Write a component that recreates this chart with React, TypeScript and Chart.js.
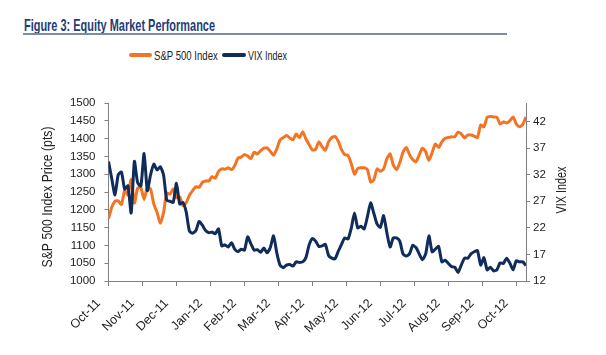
import React, { useEffect, useRef } from "react";
import { Chart, registerables } from "chart.js";

Chart.register(...registerables);

// Month tick labels and the trading-day index at which each tick sits
const MONTH_LABELS = ["Oct-11", "Nov-11", "Dec-11", "Jan-12", "Feb-12", "Mar-12", "Apr-12", "May-12", "Jun-12", "Jul-12", "Aug-12", "Sep-12", "Oct-12"];
const MONTH_TICK_INDEX = [0, 21, 42, 63, 84, 105, 126, 147, 168, 189, 210, 231, 252];
const LAST_INDEX = 258;
const SAMPLE_STEP = 2; // one sample every 2 trading days

const SPX_TICKS = [1000, 1050, 1100, 1150, 1200, 1250, 1300, 1350, 1400, 1450, 1500];
const VIX_TICKS = [12, 17, 22, 27, 32, 37, 42];

// S&P 500 index level (pts)
const SPX = [
  1175, 1207, 1224, 1225, 1215, 1254, 1242, 1285, 1219, 1261,
  1262, 1229, 1263, 1258, 1216, 1193, 1162, 1192, 1247, 1244,
  1258, 1234, 1236, 1212, 1220, 1241, 1254, 1265, 1263, 1277,
  1281, 1281, 1293, 1289, 1308, 1315, 1314, 1318, 1313, 1324,
  1345, 1348, 1355, 1351, 1344, 1362, 1357, 1366, 1373, 1374,
  1364, 1353, 1371, 1396, 1403, 1409, 1402, 1397, 1413, 1403,
  1419, 1399, 1383, 1368, 1370, 1391, 1377, 1367, 1391, 1403,
  1406, 1392, 1369, 1355, 1353, 1330, 1300, 1316, 1318, 1318,
  1313, 1278, 1285, 1315, 1308, 1315, 1343, 1357, 1326, 1313,
  1332, 1362, 1375, 1355, 1341, 1335, 1354, 1373, 1363, 1339,
  1361, 1385, 1375, 1391, 1401, 1403, 1405, 1405, 1418, 1413,
  1402, 1410, 1410, 1407, 1403, 1438, 1433, 1460, 1462, 1461,
  1460, 1441, 1447, 1444, 1450, 1461, 1441, 1433, 1440, 1461,
];

// VIX index level
const VIX = [
  34.5, 31.3, 28.2, 32.0, 32.5, 29.3, 29.9, 24.8, 34.5, 30.5,
  29.9, 36.0, 29.0, 32.0, 34.0, 32.9, 33.5, 32.0, 27.2, 27.0,
  26.8, 30.4, 26.5, 26.8, 25.0, 21.4, 21.0, 21.5, 23.2, 22.5,
  21.5, 21.1, 21.2, 20.9, 21.8, 18.6, 18.8, 18.4, 19.2, 18.0,
  17.5, 18.0, 17.8, 20.3, 19.0, 17.8, 17.9, 17.4, 18.2, 17.3,
  18.3, 20.5, 17.3, 15.0, 14.5, 15.0, 15.1, 14.8, 15.6, 15.5,
  15.6, 16.4, 18.8, 20.0, 19.5, 18.5, 18.6, 18.9, 16.8, 16.3,
  16.2, 17.6, 18.9, 20.1, 19.9, 21.9, 24.8, 22.0, 22.3, 21.8,
  24.1, 26.7, 24.7, 22.7, 22.1, 24.3, 21.1, 18.4, 20.1, 20.1,
  19.5, 17.1, 16.7, 17.1, 18.7, 18.3, 17.1, 16.0, 17.1, 20.5,
  17.5, 18.0, 18.5, 15.6, 15.9, 15.3, 14.7, 14.6, 13.6, 15.0,
  16.3, 16.3, 17.1, 17.5, 17.7, 15.0, 16.4, 14.1, 14.6, 13.9,
  14.1, 15.4, 15.3, 16.3, 15.4, 14.1, 15.8, 15.6, 15.6, 14.9,
];

const ORANGE = "#F47424";
const NAVY = "#0F2C5C";
const SANS = "'Liberation Sans', Arial, sans-serif";
const TEXT = "#222";

const measureCtx = (() => {
  const c = document.createElement("canvas");
  return c.getContext("2d") as CanvasRenderingContext2D;
})();
const fitScale = (text: string, font: string, target: number) => {
  measureCtx.font = font;
  const w = measureCtx.measureText(text).width;
  return w > 0 ? target / w : 1;
};

// draw a vertical (bottom-to-top) condensed title centred at (cx, cy)
const drawVertical = (ctx: CanvasRenderingContext2D, text: string, font: string, cx: number, cy: number, length: number) => {
  ctx.save();
  ctx.translate(cx, cy);
  ctx.rotate(-Math.PI / 2);
  ctx.font = font;
  const k = length / ctx.measureText(text).width;
  ctx.scale(k, 1);
  ctx.fillStyle = TEXT;
  ctx.textAlign = "center";
  ctx.textBaseline = "middle";
  ctx.fillText(text, 0, 0);
  ctx.restore();
};

const axisTitlesPlugin = {
  id: "axisTitles",
  afterDraw(chart: any) {
    const ctx = chart.ctx as CanvasRenderingContext2D;
    const font = `14px ${SANS}`;
    drawVertical(ctx, "S&P 500 Index Price (pts)", font, 48.5, 197, 141);
    drawVertical(ctx, "VIX Index", font, 562, 190, 47);
  },
};

function FitText(props: { text: string; left: number; top: number; size: number; width: number; bold?: boolean; color: string }) {
  const weight = props.bold ? "bold " : "";
  const font = `${weight}${props.size}px ${SANS}`;
  const k = fitScale(props.text, font, props.width);
  return (
    <div
      style={{
        position: "absolute",
        left: props.left,
        top: props.top,
        font,
        lineHeight: `${props.size}px`,
        color: props.color,
        whiteSpace: "nowrap",
        transform: `scaleX(${k})`,
        transformOrigin: "0 0",
      }}
    >
      {props.text}
    </div>
  );
}

export default function App() {
  const ref = useRef<HTMLCanvasElement>(null);

  useEffect(() => {
    if (!ref.current) return;
    const toPoints = (arr: number[]) => arr.map((y, i) => ({ x: i * SAMPLE_STEP, y }));
    const axisColor = "#808080";
    const chart = new Chart(ref.current, {
      type: "line",
      data: {
        datasets: [
          {
            label: "S&P 500 Index",
            data: toPoints(SPX),
            borderColor: ORANGE,
            backgroundColor: ORANGE,
            borderWidth: 3,
            pointRadius: 0,
            tension: 0.2,
            yAxisID: "y",
            order: 1,
            borderJoinStyle: "round",
          },
          {
            label: "VIX Index",
            data: toPoints(VIX),
            borderColor: NAVY,
            backgroundColor: NAVY,
            borderWidth: 3,
            pointRadius: 0,
            tension: 0.2,
            yAxisID: "y1",
            order: 0,
            borderJoinStyle: "round",
          },
        ],
      },
      options: {
        responsive: false,
        animation: false,
        devicePixelRatio: 1,
        layout: { padding: { top: 103, left: 0, right: 0, bottom: 0 } },
        plugins: { legend: { display: false }, tooltip: { enabled: false }, title: { display: false } },
        scales: {
          x: {
            type: "linear",
            min: 0,
            max: LAST_INDEX,
            afterBuildTicks: (s: any) => {
              s.ticks = MONTH_TICK_INDEX.map((v) => ({ value: v }));
            },
            afterFit: (s: any) => {
              s.height = 74;
            },
            grid: { display: true, drawOnChartArea: false, drawTicks: true, tickLength: 5, color: axisColor },
            border: { display: true, color: axisColor, width: 1 },
            ticks: {
              autoSkip: false,
              maxRotation: 45,
              minRotation: 45,
              padding: 10,
              labelOffset: -10,
              color: TEXT,
              font: { family: SANS, size: 12.5 },
              callback: (_v: any, i: number) => MONTH_LABELS[i],
            },
          },
          y: {
            position: "left",
            min: 1000,
            max: 1500,
            afterBuildTicks: (s: any) => {
              s.ticks = SPX_TICKS.map((v) => ({ value: v }));
            },
            afterFit: (s: any) => {
              s.width = 108.5;
            },
            grid: { display: true, drawOnChartArea: false, drawTicks: true, tickLength: 4, color: axisColor },
            border: { display: true, color: axisColor, width: 1 },
            ticks: { padding: 9, color: TEXT, font: { family: SANS, size: 11.5 }, callback: (v: any) => String(v) },
          },
          y1: {
            position: "right",
            min: 12,
            max: 45.5,
            afterBuildTicks: (s: any) => {
              s.ticks = VIX_TICKS.map((v) => ({ value: v }));
            },
            afterFit: (s: any) => {
              s.width = 80;
            },
            grid: { display: true, drawOnChartArea: false, drawTicks: true, tickLength: 4, color: axisColor },
            border: { display: true, color: axisColor, width: 1 },
            ticks: { padding: 3, color: TEXT, font: { family: SANS, size: 11.5 }, callback: (v: any) => String(v) },
          },
        },
      },
      plugins: [axisTitlesPlugin],
    } as any);
    return () => chart.destroy();
  }, []);

  const swatch = (color: string, left: number, width: number) => (
    <div style={{ position: "absolute", left, top: 53, width, height: 4, borderRadius: 2, background: color }} />
  );

  return (
    <div style={{ position: "fixed", left: 0, top: 0, width: 606, height: 355, background: "#fff", overflow: "hidden" }}>
      <FitText text="Figure 3: Equity Market Performance" left={24} top={16.5} size={16.5} width={191} bold color="#1F3C78" />
      <div style={{ position: "absolute", left: 23, top: 33, width: 484, height: 2, background: "#7D8CA5" }} />
      {swatch(ORANGE, 129, 23)}
      <FitText text="S&P 500 Index" left={154} top={49} size={13} width={64} color={TEXT} />
      {swatch(NAVY, 222, 24)}
      <FitText text="VIX Index" left={248} top={49} size={13} width={39} color={TEXT} />
      <canvas ref={ref} width={606} height={355} style={{ position: "absolute", left: 0, top: 0 }} />
    </div>
  );
}
